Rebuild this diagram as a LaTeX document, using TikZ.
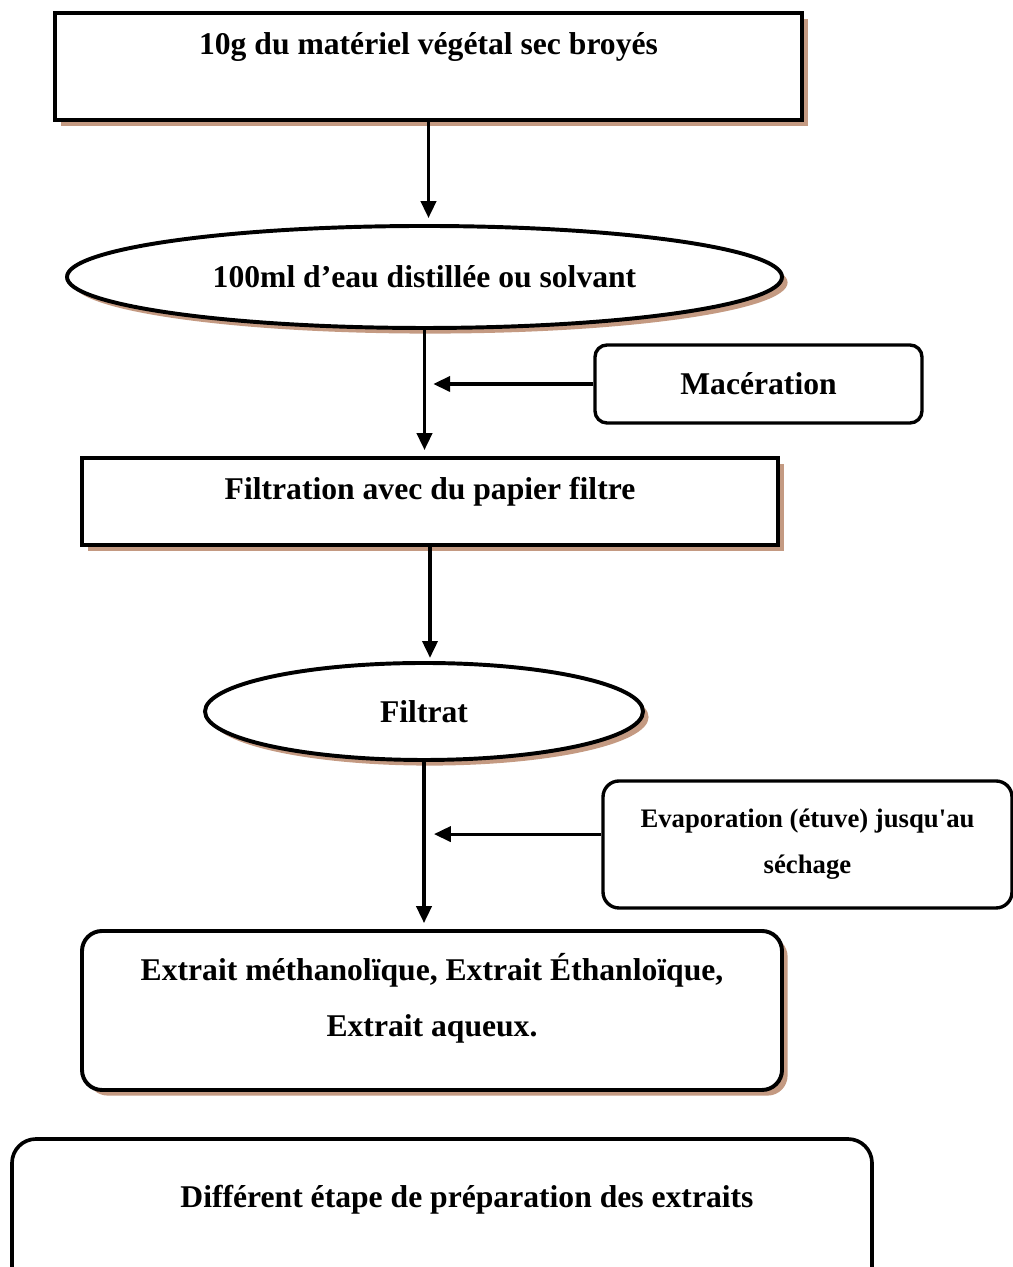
\documentclass[tikz,border=0pt]{standalone}
\usepackage{fontspec}
\setmainfont{Liberation Serif}[Ligatures=TeXOff]
\usepackage{xcolor}
\usepackage{tikz}
\usetikzlibrary{arrows.meta,shapes.geometric,shadows}

\definecolor{shadowTan}{RGB}{196,154,130}
\newcommand{\flowFont}{\fontsize{22.5}{40.5}\selectfont\bfseries}
\newcommand{\sideFont}{\fontsize{19}{32.5}\selectfont\bfseries}

\begin{document}
\begin{tikzpicture}[
			% Main steps with a tan drop shadow
			stepBox/.style={
				rectangle,
				draw=black,
				line width=2.8pt,
				fill=white,
				inner sep=0pt,
				font=\flowFont,
				drop shadow={shadow xshift=0.14cm, shadow yshift=-0.14cm, fill=shadowTan, opacity=1}
			},
			stepEllipse/.style={
				ellipse,
				draw=black,
				line width=2.8pt,
				fill=white,
				inner sep=0pt,
				font=\flowFont,
				drop shadow={shadow xshift=0.14cm, shadow yshift=-0.14cm, fill=shadowTan, opacity=1}
			},
			resultBox/.style={
				rectangle,
				rounded corners=0.5cm,
				draw=black,
				line width=2.8pt,
				fill=white,
				inner sep=0pt,
				font=\flowFont,
				drop shadow={shadow xshift=0.14cm, shadow yshift=-0.14cm, fill=shadowTan, opacity=1}
			},
			% Operations beside the main line
			sideBox/.style={
				rectangle,
				rounded corners=0.3cm,
				draw=black,
				line width=2.4pt,
				fill=white,
				inner sep=0pt,
				font=\flowFont
			},
			captionBox/.style={
				rectangle,
				rounded corners=0.6cm,
				draw=black,
				line width=2.6pt,
				fill=white,
				inner sep=0pt,
				font=\flowFont
			},
			flow/.style={
				-{Triangle[length=0.42cm,width=0.38cm]},
				line width=2.2pt
			}
			]
			
			\useasboundingbox (0,0) rectangle (25.325,31.675);
			
			% Main sequence
			\node[
			stepBox,
			minimum width=18.675cm,
			text height=1.05cm,
			text depth=1.625cm,
			anchor=base
			] (material) at (10.7125,30.3)
			{10g du matériel végétal sec broyés};
			
			\node[
			stepEllipse,
			minimum width=17.875cm,
			minimum height=2.55cm
			] (solvent) at (10.6125,24.75)
			{100ml d’eau distillée ou solvant};
			
			\node[
			stepBox,
			minimum width=17.4cm,
			text height=1.05cm,
			text depth=1.125cm,
			anchor=base
			] (filtration) at (10.75,19.175)
			{Filtration avec du papier filtre};
			
			\node[
			stepEllipse,
			minimum width=10.95cm,
			minimum height=2.425cm
			] (filtrate) at (10.6,13.8875)
			{Filtrat};
			
			\node[
			resultBox,
			minimum width=17.5cm,
			text height=2.65cm,
			text depth=1.325cm,
			anchor=base
			] (extracts) at (10.8,5.75)
			{\parbox[b]{17cm}{\centering
					Extrait méthanolïque, Extrait Éthanloïque,\\
					Extrait aqueux.}};
			
			% Side operations
			\node[
			sideBox,
			minimum width=8.175cm,
			minimum height=1.95cm
			] (maceration) at (18.9625,22.075)
			{Macération};
			
			\node[
			sideBox,
			rounded corners=0.4cm,
			font=\sideFont,
			align=center,
			minimum width=10.225cm,
			minimum height=3.175cm
			] (evaporation) at (20.1875,10.5625)
			{Evaporation (étuve) jusqu'au\\
				séchage};
			
			% Caption box, cut by the page edge
			\node[
			captionBox,
			minimum width=21.5cm,
			text height=1.725cm,
			text depth=2.3cm,
			anchor=base
			] (caption) at (11.05,1.475)
			{\hspace*{1.25cm}Différent étape de préparation des extraits};
			
			% Arrows
			\draw[flow, shorten >=0.15cm] (material.south) -- (material.south |- solvent.north);
			\draw[flow, shorten >=0.15cm] (solvent.south) -- (solvent.south |- filtration.north);
			\draw[flow, shorten >=0.08cm] (filtration.south) -- (filtration.south |- filtrate.north);
			\draw[flow, shorten >=0.15cm] (filtrate.south) -- (filtrate.south |- extracts.north);
			
			\draw[flow, shorten >=0.22cm] (maceration.west) -- (maceration.west -| solvent.south);
			\draw[flow, shorten >=0.25cm] ([yshift=0.26cm]evaporation.west) -- ([yshift=0.26cm]evaporation.west -| filtrate.south);
			
		\end{tikzpicture}
\end{document}
